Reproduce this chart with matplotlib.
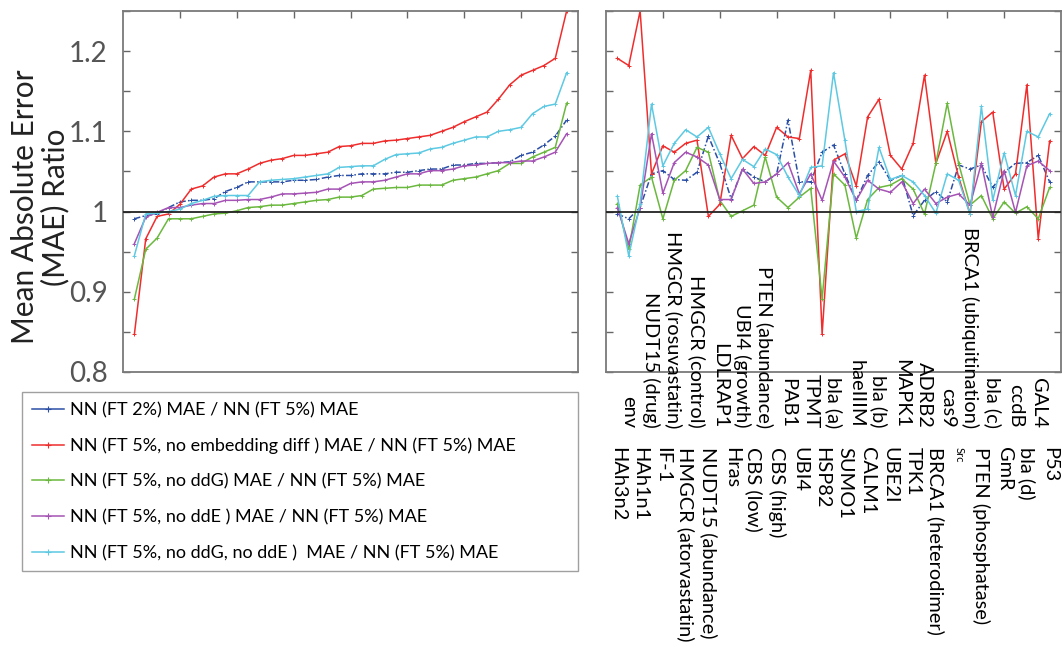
import matplotlib
matplotlib.use('Agg')
import matplotlib.pyplot as plt
from matplotlib.lines import Line2D
import numpy as np

plt.rcParams['font.family'] = ['Lato', 'DejaVu Sans']

# proteins / assays along the x axis of the right panel
proteins = ['HAh3n2', 'env', 'HAh1n1', 'NUDT15 (drug)', 'IF-1', 'HMGCR (rosuvastatin)',
            'HMGCR (atorvastatin)', 'HMGCR (control)', 'NUDT15 (abundance)', 'LDLRAP1',
            'Hras', 'UBI4 (growth)', 'CBS (low)', 'PTEN (abundance)', 'CBS (high)', 'PAB1',
            'UBI4', 'TPMT', 'HSP82', 'bla (a)', 'SUMO1', 'haeIIIM', 'CALM1', 'bla (b)',
            'UBE2I', 'MAPK1', 'TPK1', 'ADRB2', 'BRCA1 (heterodimer)', 'cas9', 'Src',
            'BRCA1 (ubiquitination)', 'PTEN (phosphatase)', 'bla (c)', 'GmR', 'ccdB',
            'bla (d)', 'GAL4', 'P53']

# MAE ratios per protein
ft2 = [0.997, 0.991, 1.005, 1.047, 1.051, 1.040, 1.039, 1.049, 1.094, 1.060,
       1.016, 1.053, 1.043, 1.037, 1.047, 1.114, 1.037, 1.037, 1.074, 1.083,
       1.047, 1.014, 1.045, 1.062, 1.039, 1.045, 0.995, 1.014, 1.025, 1.012,
       1.058, 1.053, 1.058, 1.030, 1.049, 1.060, 1.061, 1.070, 1.037]
no_emb = [1.191, 1.182, 1.250, 1.047, 1.082, 1.074, 1.085, 1.089, 0.994, 1.009,
          1.095, 1.066, 1.081, 1.070, 1.105, 1.093, 1.091, 1.176, 0.847, 1.064,
          1.072, 1.032, 1.118, 1.140, 1.070, 1.053, 1.085, 1.170, 1.060, 1.100,
          1.043, 0.997, 1.112, 1.124, 1.028, 1.047, 1.158, 0.966, 1.088]
no_ddg = [1.010, 0.953, 1.033, 1.043, 0.991, 1.039, 1.051, 1.080, 1.074, 1.014,
          0.994, 1.001, 1.008, 1.068, 1.018, 1.005, 1.018, 1.029, 0.891, 1.047,
          1.033, 0.967, 1.015, 1.030, 1.033, 1.041, 1.028, 0.997, 1.060, 1.135,
          1.060, 1.008, 1.020, 0.991, 1.012, 0.998, 1.006, 0.991, 1.030]
no_dde = [1.005, 0.960, 1.005, 1.097, 1.023, 1.061, 1.074, 1.068, 1.058, 1.015,
          1.015, 1.053, 1.035, 1.037, 1.047, 1.061, 1.022, 1.047, 1.014, 1.063,
          1.043, 1.014, 1.039, 1.028, 1.024, 1.037, 1.010, 1.028, 1.010, 1.018,
          1.022, 1.008, 1.060, 0.993, 1.051, 0.999, 1.057, 1.063, 1.051]
no_both = [1.019, 0.945, 1.010, 1.134, 1.057, 1.085, 1.102, 1.093, 1.105, 1.072,
           1.041, 1.065, 1.056, 1.078, 1.071, 1.043, 1.020, 1.055, 1.057, 1.173,
           1.089, 1.000, 1.003, 1.080, 1.040, 1.045, 1.037, 1.020, 0.998, 1.047,
           1.039, 0.997, 1.131, 1.014, 1.073, 1.020, 1.100, 1.093, 1.122]

series = [ft2, no_emb, no_ddg, no_dde, no_both]
names = ['NN (FT 2%) MAE / NN (FT 5%) MAE',
         'NN (FT 5%, no embedding diff ) MAE / NN (FT 5%) MAE',
         'NN (FT 5%, no ddG) MAE / NN (FT 5%) MAE',
         'NN (FT 5%, no ddE ) MAE / NN (FT 5%) MAE',
         'NN (FT 5%, no ddG, no ddE )  MAE / NN (FT 5%) MAE']
colors = ['#2b4fa6', '#ef2d2d', '#6bb83e', '#a553b4', '#5dc9e2']
lstyles = [(0, (4, 1.5, 1, 1.5)), '-', '-', '-', '-']

W, H = 1063, 647
fig = plt.figure(figsize=(W / 100, H / 100), dpi=100)

def add_ax(x0, y0, x1, y1):
    return fig.add_axes([x0 / W, 1 - y1 / H, (x1 - x0) / W, (y1 - y0) / H])

ax1 = add_ax(123, 11, 578, 372)
ax2 = add_ax(606, 11, 1061, 372)

x = np.arange(1, len(proteins) + 1)
yt = np.round(np.arange(0.8, 1.251, 0.05), 2)

for ax in (ax1, ax2):
    ax.set_xlim(0, 40)
    ax.set_ylim(0.8, 1.25)
    ax.set_xticks(np.arange(5, 40, 5))
    ax.set_yticks(yt)
    ax.tick_params(direction='in', top=True, bottom=False, right=True, left=True,
                   length=5, width=1.0, color='#666666', labelbottom=False)
    for s in ax.spines.values():
        s.set_color('#7a7a7a')
        s.set_linewidth(1.3)
    ax.axhline(1, color='#222222', lw=1.3, zorder=4)

# left: each series sorted
for vals, c, ls in zip(series, colors, lstyles):
    ax1.plot(x, np.sort(vals), color=c, ls=ls, lw=1.1, marker='+', ms=2.5, mew=0.7)
# right: per protein
for vals, c, ls in zip(series, colors, lstyles):
    ax2.plot(x, vals, color=c, ls=ls, lw=1.1, marker='+', ms=2.5, mew=0.7)

ax1.set_yticklabels(['0.8', '', '0.9', '', '1', '', '1.1', '', '1.2', ''],
                    fontsize=20, color='#555555')
ax1.tick_params(axis='y', pad=11)
ax2.set_yticklabels([])
ax1.set_ylabel('Mean Absolute Error\n(MAE) Ratio', fontsize=21.5, color='#222222',
               linespacing=1.1)
ax1.yaxis.set_label_coords(-0.117, 0.457)

# staggered protein names below the right panel
tr = ax2.get_xaxis_transform()
for xi, name in zip(x, proteins):
    fs = 8 if name == 'Src' else 14.4
    if xi % 2 == 0:
        ax2.text(xi, -0.155, name, transform=tr, rotation=270, ha='center', va='bottom',
                 fontsize=fs, clip_on=False)
    else:
        ax2.text(xi, -0.208, name, transform=tr, rotation=270, ha='center', va='top',
                 fontsize=fs, clip_on=False)

handles = [Line2D([], [], color=c, lw=1.1, marker='+', ms=4, mew=0.8) for c in colors]
fig.legend(handles, names, loc='upper left',
           bbox_to_anchor=(22 / W, 1 - 568 / H, (578 - 22) / W, (568 - 392) / H),
           mode='expand', borderaxespad=0, fontsize=13, frameon=True, fancybox=False,
           edgecolor='#888888', handlelength=1.8, handletextpad=0.3,
           labelspacing=1.08, borderpad=0.55)

fig.savefig('out.png', dpi=100, facecolor='white')
